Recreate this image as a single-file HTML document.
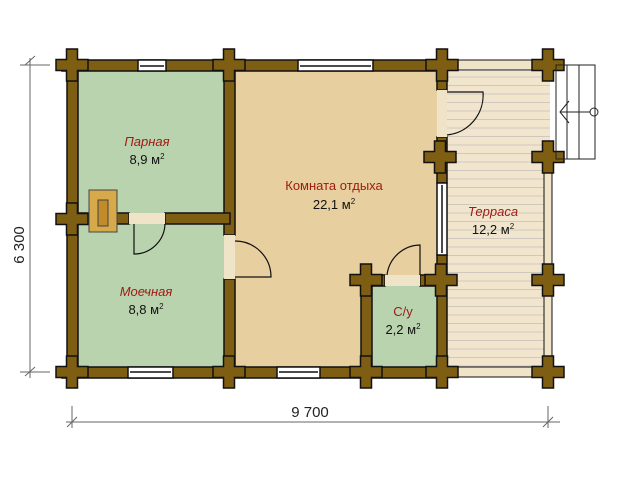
<!DOCTYPE html>
<html><head><meta charset="utf-8"><style>html,body{margin:0;padding:0;background:#fff}svg{display:block}</style></head><body>
<svg width="640" height="480" viewBox="0 0 640 480" xmlns="http://www.w3.org/2000/svg" font-family="'Liberation Sans', 'DejaVu Sans', sans-serif">
<defs>
<pattern id="tl" width="10" height="8.5" patternUnits="userSpaceOnUse"><rect width="10" height="8.5" fill="#f1e6cd"/><line x1="0" y1="0.5" x2="10" y2="0.5" stroke="#cfc8c0" stroke-width="1"/></pattern>
</defs>
<!-- floors -->
<rect x="78" y="71" width="146" height="296" fill="#b9d3ae"/>
<rect x="235" y="71" width="204" height="296" fill="#e8cf9f"/>
<rect x="447" y="71" width="103" height="296" fill="url(#tl)"/>
<rect x="372" y="286" width="65" height="81" fill="#b9d3ae"/>
<!-- walls -->
<g fill="#7e5e12" stroke="#111" stroke-width="1.5">
<rect x="62" y="60" width="380" height="11"/>
<rect x="67" y="60" width="11" height="318"/>
<rect x="62" y="367" width="380" height="11"/>
<rect x="224" y="60" width="11" height="175"/>
<rect x="224" y="279" width="11" height="95"/>
<rect x="67" y="213" width="62" height="11"/>
<rect x="165" y="213" width="65" height="11"/>
<rect x="437" y="60" width="10" height="30"/>
<rect x="437" y="137" width="10" height="46"/>
<rect x="437" y="255" width="10" height="117"/>
<rect x="361" y="275" width="24" height="11"/>
<rect x="420" y="275" width="22" height="11"/>
<rect x="361" y="275" width="11" height="100"/>
</g>
<!-- terrace light rails -->
<g fill="#efe4c8" stroke="#111" stroke-width="1">
<rect x="455" y="60" width="80" height="10"/>
<rect x="455" y="367" width="80" height="10"/>
<rect x="544" y="171" width="8" height="94"/>
<rect x="544" y="290" width="8" height="70"/>
</g>
<!-- door openings -->
<rect x="129" y="213" width="36" height="11" fill="#efe4c8"/>
<rect x="224" y="235" width="11" height="44" fill="#efe4c8"/>
<rect x="437" y="90" width="10" height="47" fill="#efe4c8"/>
<rect x="385" y="275" width="35" height="11" fill="#efe4c8"/>
<!-- crosses -->
<g fill="#7e5e12" stroke="#111" stroke-width="1.5">
<path id="c" d="M-5.5,-16h11v10.5h10.5v11h-10.5v10.5h-11v-10.5h-10.5v-11h10.5z" transform="translate(72,65)"/>
<use href="#c" transform="translate(157,0)"/>
<use href="#c" transform="translate(370,0)"/>
<use href="#c" transform="translate(476,0)"/>
<use href="#c" transform="translate(0,154)"/>
<use href="#c" transform="translate(0,307)"/>
<use href="#c" transform="translate(157,307)"/>
<use href="#c" transform="translate(294,307)"/>
<use href="#c" transform="translate(370,307)"/>
<use href="#c" transform="translate(476,307)"/>
<use href="#c" transform="translate(368,92)"/>
<use href="#c" transform="translate(476,92)"/>
<use href="#c" transform="translate(294,215)"/>
<use href="#c" transform="translate(369,215)"/>
<use href="#c" transform="translate(476,215)"/>
</g>
<!-- windows -->
<g fill="#fff" stroke="#111" stroke-width="1.5">
<rect x="138" y="60" width="28" height="11"/>
<rect x="298" y="60" width="75" height="11"/>
<rect x="128" y="367" width="45" height="11"/>
<rect x="277" y="367" width="43" height="11"/>
<rect x="437" y="183" width="10" height="72"/>
</g>
<g stroke="#111" stroke-width="1.5">
<line x1="140" y1="66" x2="164" y2="66"/><line x1="300" y1="66" x2="371" y2="66"/>
<line x1="130" y1="372" x2="171" y2="372"/><line x1="279" y1="372" x2="318" y2="372"/>
<line x1="442" y1="185" x2="442" y2="253"/>
</g>
<!-- doors -->
<g fill="none" stroke="#111" stroke-width="1.2">
<path d="M134,224 V254 A31,31 0 0 0 165,224"/>
<path d="M235,277 H271 A36,36 0 0 0 235,241"/>
<path d="M447,135 A40,40 0 0 0 483,92 H447"/>
<path d="M420,275 V245 A34,34 0 0 0 387,275"/>
</g>
<!-- stove -->
<rect x="89" y="190" width="28" height="42" fill="#d6a94a" stroke="#444" stroke-width="1"/>
<rect x="98" y="200" width="10" height="26" fill="#c28b2a" stroke="#444" stroke-width="1"/>
<!-- stairs -->
<g fill="none" stroke="#222" stroke-width="1">
<rect x="556" y="65" width="39" height="94"/>
<line x1="567" y1="65" x2="567" y2="159"/><line x1="579" y1="65" x2="579" y2="159"/>
<line x1="560" y1="112" x2="590" y2="112"/>
<polyline points="569,101 560,112 569,123"/>
<circle cx="594" cy="112" r="4"/>
</g>
<!-- dimensions -->
<g stroke="#666" stroke-width="1">
<line x1="30" y1="58" x2="30" y2="378"/><line x1="25" y1="65" x2="35" y2="56"/><line x1="25" y1="376" x2="35" y2="367"/>
<line x1="20" y1="65" x2="50" y2="65"/><line x1="20" y1="372" x2="50" y2="372"/>
<line x1="66" y1="422" x2="560" y2="422"/><line x1="72" y1="406" x2="72" y2="428"/><line x1="548" y1="406" x2="548" y2="428"/>
<line x1="67" y1="427" x2="77" y2="417"/><line x1="543" y1="427" x2="553" y2="417"/>
</g>
<text x="310" y="417" font-size="15" text-anchor="middle" fill="#222">9 700</text>
<text transform="translate(24,245) rotate(-90)" font-size="15" text-anchor="middle" fill="#222">6 300</text>
<!-- labels -->
<g font-size="13" text-anchor="middle">
<text x="147" y="146" fill="#9c1a14" font-style="italic">Парная</text>
<text x="147" y="164" fill="#111">8,9 м<tspan font-size="8" dy="-5">2</tspan></text>
<text x="334" y="190" fill="#9c1a14">Комната отдыха</text>
<text x="334" y="209" fill="#111">22,1 м<tspan font-size="8" dy="-5">2</tspan></text>
<text x="493" y="216" fill="#9c1a14" font-style="italic">Терраса</text>
<text x="493" y="234" fill="#111">12,2 м<tspan font-size="8" dy="-5">2</tspan></text>
<text x="146" y="296" fill="#9c1a14" font-style="italic">Моечная</text>
<text x="146" y="314" fill="#111">8,8 м<tspan font-size="8" dy="-5">2</tspan></text>
<text x="403" y="316" fill="#9c1a14">С/у</text>
<text x="403" y="334" fill="#111">2,2 м<tspan font-size="8" dy="-5">2</tspan></text>
</g>
</svg>
</body></html>
